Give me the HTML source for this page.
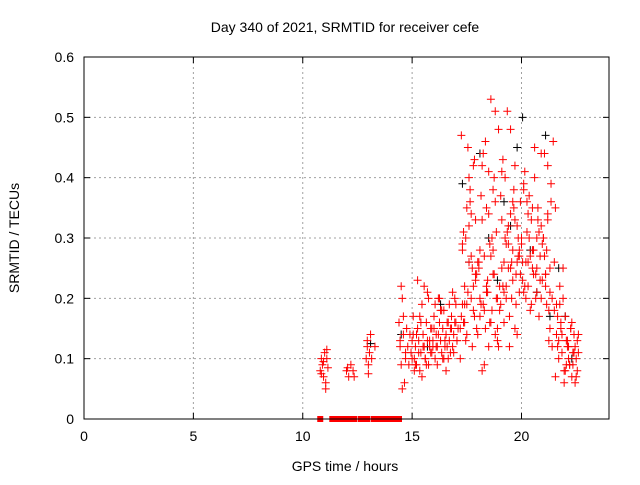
<!DOCTYPE html>
<html><head><meta charset="utf-8"><style>
body{margin:0;background:#fff;font-family:"Liberation Sans",sans-serif}
svg text{font-family:"Liberation Sans",sans-serif;font-size:14px;fill:#000}
</style></head><body>
<svg id="chart" width="640" height="480" viewBox="0 0 640 480">
<rect width="640" height="480" fill="#fff"/>
<text x="345" y="32" text-anchor="middle">Day 340 of 2021, SRMTID for receiver cefe</text>
<g id="grid"></g>
<g id="axes"></g>
<g id="marks"></g>
<rect x="84" y="57" width="525" height="362" fill="none" stroke="#000" stroke-width="1"/>
<text x="345" y="471" text-anchor="middle">GPS time / hours</text>
<text transform="translate(19,238) rotate(-90)" text-anchor="middle">SRMTID / TECUs</text>
</svg>
<script>
const xTicks=[0,5,10,15,20];
const yTicks=[0,0.1,0.2,0.3,0.4,0.5,0.6];
const yTickLabels=["0","0.1","0.2","0.3","0.4","0.5","0.6"];
const zeroTimes=[10.8,11.35,11.45,11.55,11.65,11.75,11.85,11.95,12.05,12.15,12.25,12.35,12.65,12.75,12.85,12.95,13.25,13.35,13.45,13.55,13.7,13.8,13.9,14.0,14.1,14.2,14.3,14.4];
const redTimes=[10.8,10.85,10.9,10.95,11.0,11.05,11.1,11.15,10.85,10.95,11.05,11.1,12.0,12.1,12.2,12.3,12.35,12.05,12.9,12.95,13.0,13.05,13.1,13.15,13.3,13.0,12.95,
14.4,14.45,14.5,14.55,14.6,14.65,14.7,14.5,14.6,14.55,14.45,14.7,14.75,14.8,14.85,14.9,14.95,15.0,15.05,15.1,15.15,15.2,15.25,15.3,15.35,15.4,15.45,15.5,15.55,15.6,15.65,15.7,15.75,15.8,15.85,15.9,15.95,16.0,16.05,16.1,16.15,16.2,16.25,16.3,16.35,16.4,16.45,16.5,16.55,16.6,16.65,16.7,16.75,16.8,16.85,16.9,16.95,17.0,17.05,17.1,15.0,15.1,15.2,15.3,15.4,15.5,15.6,15.7,15.8,15.9,16.0,16.1,16.2,16.3,16.4,16.5,16.6,16.7,16.8,16.9,17.0,15.05,15.25,15.45,15.65,15.85,16.05,16.25,16.45,16.65,16.85,17.05,15.15,15.35,15.55,15.75,15.95,16.15,16.35,16.55,16.75,16.95,
17.2,17.25,17.3,17.35,17.4,17.45,17.5,17.55,17.6,17.65,17.7,17.75,17.8,17.85,17.9,17.95,17.2,17.3,17.4,17.5,17.6,17.7,17.8,17.9,17.25,17.35,17.45,17.55,17.65,17.75,17.85,17.95,17.3,17.5,17.7,17.9,17.4,17.6,17.8,
18.0,18.05,18.1,18.15,18.2,18.25,18.3,18.35,18.4,18.45,18.5,18.55,18.6,18.65,18.7,18.75,18.8,18.85,18.9,18.95,18.0,18.1,18.2,18.3,18.4,18.5,18.6,18.7,18.8,18.9,18.05,18.15,18.25,18.35,18.45,18.55,18.65,18.75,18.85,18.95,18.1,18.3,18.5,18.7,18.9,18.2,18.4,18.6,18.8,
19.0,19.05,19.1,19.15,19.2,19.25,19.3,19.35,19.4,19.45,19.5,19.55,19.6,19.65,19.7,19.75,19.8,19.85,19.9,19.95,19.0,19.1,19.2,19.3,19.4,19.5,19.6,19.7,19.8,19.9,19.05,19.15,19.25,19.35,19.45,19.55,19.65,19.75,19.85,19.95,19.1,19.3,19.5,19.7,19.9,19.2,19.4,19.6,19.8,
20.0,20.05,20.1,20.15,20.2,20.25,20.3,20.35,20.4,20.45,20.5,20.55,20.6,20.65,20.7,20.75,20.8,20.85,20.9,20.95,20.0,20.1,20.2,20.3,20.4,20.5,20.6,20.7,20.8,20.9,20.05,20.15,20.25,20.35,20.45,20.55,20.65,20.75,20.85,20.95,20.1,20.3,20.5,20.7,20.9,
21.0,21.05,21.1,21.15,21.2,21.25,21.3,21.35,21.4,21.45,21.0,21.1,21.2,21.3,21.4,21.05,21.15,21.25,21.35,21.1,21.2,21.3,
21.5,21.55,21.6,21.65,21.7,21.75,21.8,21.85,21.9,21.95,21.5,21.6,21.7,21.8,21.9,21.55,21.65,21.75,21.85,21.95,
22.0,22.05,22.1,22.15,22.2,22.25,22.3,22.35,22.4,22.45,22.5,22.55,22.0,22.1,22.2,22.3,22.4,22.5,22.05,22.15,22.25,22.35,22.45,22.55,22.6,22.6];
const redValues=[0.08,0.1,0.09,0.07,0.11,0.06,0.1,0.085,0.075,0.095,0.05,0.115,0.08,0.07,0.09,0.08,0.07,0.085,0.1,0.12,0.09,0.11,0.14,0.1,0.12,0.075,0.13,
0.16,0.12,0.09,0.2,0.14,0.06,0.11,0.22,0.17,0.05,0.13,0.1,0.15,0.12,0.09,0.14,0.11,0.13,0.17,0.1,0.12,0.09,0.15,0.13,0.08,0.11,0.19,0.14,0.12,0.1,0.16,0.13,0.09,0.12,0.11,0.15,0.13,0.17,0.1,0.14,0.12,0.2,0.16,0.13,0.11,0.15,0.18,0.12,0.14,0.16,0.1,0.13,0.15,0.17,0.12,0.14,0.16,0.19,0.13,0.15,0.1,0.08,0.14,0.11,0.16,0.12,0.1,0.21,0.13,0.11,0.15,0.12,0.14,0.18,0.1,0.13,0.12,0.19,0.15,0.11,0.16,0.14,0.23,0.07,0.09,0.15,0.19,0.2,0.1,0.16,0.21,0.13,0.09,0.17,0.22,0.2,0.12,0.09,0.18,0.08,0.11,0.2,0.1,0.17,0.19,
0.16,0.22,0.3,0.14,0.45,0.26,0.38,0.2,0.12,0.42,0.17,0.33,0.24,0.15,0.28,0.19,0.35,0.4,0.27,0.18,0.23,0.47,0.31,0.13,0.21,0.36,0.25,0.43,0.15,0.29,0.19,0.34,0.24,0.16,0.32,0.22,0.14,0.26,0.2,
0.19,0.08,0.44,0.27,0.15,0.35,0.21,0.12,0.29,0.53,0.18,0.38,0.24,0.14,0.31,0.2,0.48,0.26,0.17,0.33,0.09,0.22,0.41,0.16,0.28,0.51,0.13,0.25,0.37,0.19,0.46,0.23,0.16,0.3,0.4,0.2,0.12,0.28,0.18,0.34,0.24,0.15,0.42,0.21,0.27,0.36,0.22,0.19,0.25,
0.43,0.16,0.3,0.22,0.51,0.25,0.12,0.34,0.2,0.28,0.38,0.15,0.24,0.32,0.27,0.21,0.36,0.18,0.41,0.26,0.2,0.29,0.48,0.23,0.33,0.14,0.27,0.37,0.22,0.4,0.31,0.17,0.26,0.35,0.19,0.3,0.24,0.33,0.29,0.25,0.42,0.28,0.21,0.32,0.36,0.26,0.3,0.23,0.39,
0.41,0.26,0.31,0.22,0.37,0.18,0.33,0.28,0.24,0.45,0.2,0.3,0.35,0.17,0.27,0.32,0.23,0.29,0.38,0.2,0.34,0.27,0.25,0.4,0.21,0.31,0.44,0.26,0.22,0.36,0.3,0.19,0.28,0.24,0.33,0.23,0.29,0.21,0.26,0.35,0.25,0.2,0.3,0.27,0.24,
0.19,0.33,0.13,0.25,0.39,0.2,0.46,0.3,0.22,0.34,0.15,0.12,0.44,0.28,0.18,0.36,0.24,0.42,0.21,0.26,0.35,0.19,
0.17,0.13,0.22,0.15,0.11,0.25,0.08,0.18,0.14,0.1,0.16,0.2,0.07,0.12,0.19,0.14,0.06,0.17,0.09,0.13,
0.12,0.09,0.15,0.07,0.11,0.14,0.06,0.1,0.13,0.08,0.12,0.09,0.16,0.11,0.07,0.13,0.1,0.15,0.09,0.12,0.08,0.11,0.14,0.06,0.05,0.16];
const blackTimes=[13.1,14.5,17.3,17.6,18.1,18.5,18.9,19.2,19.5,19.8,20.05,20.4,20.7,21.1,21.3,21.7,22.0,22.3,16.3,15.7];
const blackValues=[0.125,0.14,0.39,0.26,0.44,0.3,0.23,0.36,0.32,0.45,0.5,0.28,0.21,0.47,0.17,0.25,0.17,0.1,0.19,0.12];

const NS='http://www.w3.org/2000/svg';
const L=84,R=609,T=57,B=419;
function xs(t){return L+(t-0)/24*(R-L);}
function ys(v){return B-(v-0)/0.6*(B-T);}
const grid=document.getElementById('grid'),axes=document.getElementById('axes'),marks=document.getElementById('marks');
function mk(tag,attrs,parent){const e=document.createElementNS(NS,tag);for(const k in attrs)e.setAttribute(k,attrs[k]);parent.appendChild(e);return e;}
xTicks.forEach(t=>{
 const x=xs(t);
 if(t>0){const g=mk('line',{x1:x,x2:x,y1:T,y2:B,stroke:'#a0a0a0','stroke-dasharray':'2,3'},grid);
 
 }
 const tk=mk('line',{x1:x,x2:x,y1:B,y2:B-6,stroke:'#000'},axes);
 
 
 const tk2=mk('line',{x1:x,x2:x,y1:T,y2:T+6,stroke:'#000'},axes);
 
 
 const tx=mk('text',{x:x,y:B+22,'text-anchor':'middle'},axes);tx.textContent=String(t);
 
 
});
yTicks.forEach((v,i)=>{
 const y=ys(v);
 if(v>0&&v<0.6){const g=mk('line',{x1:L,x2:R,y1:y,y2:y,stroke:'#a0a0a0','stroke-dasharray':'2,3'},grid);
 
 }
 const tk=mk('line',{x1:L,x2:L+6,y1:y,y2:y,stroke:'#000'},axes);
 
 
 const tk2=mk('line',{x1:R,x2:R-6,y1:y,y2:y,stroke:'#000'},axes);
 
 
 const tx=mk('text',{x:L-10,y:y+5,'text-anchor':'end'},axes);tx.textContent=yTickLabels[i];
 
 
});
function plus(t,v,c,name){
 const x=xs(t),y=ys(v);
 const p=mk('path',{d:`M${x-4} ${y}H${x+4}M${x} ${y-4}V${y+4}`,stroke:c,'stroke-width':1,fill:'none'},marks);
 
 
}
blackTimes.forEach((t,i)=>plus(t,blackValues[i],'#000','black-point'));
redTimes.forEach((t,i)=>plus(t,redValues[i],'#f00','red-point'));
zeroTimes.forEach(t=>{
 const r=mk('rect',{x:xs(t)-3,y:ys(0)-3,width:6,height:6,fill:'#f00'},marks);
 
 
});
</script>
</body></html>
